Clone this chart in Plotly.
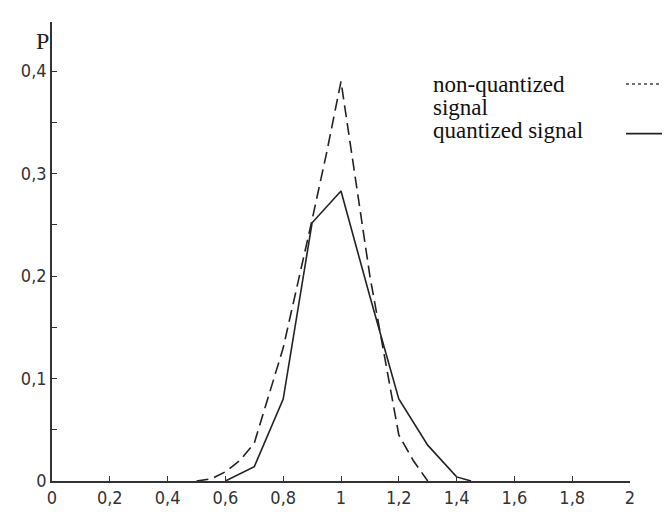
import plotly.graph_objects as go

# Data
nonq_x = [0.5, 0.55, 0.6, 0.65, 0.7, 0.8, 0.9, 0.95, 1.0, 1.1, 1.2, 1.25, 1.3]
nonq_y = [0.0, 0.002, 0.009, 0.02, 0.037, 0.13, 0.255, 0.32, 0.39, 0.2, 0.045, 0.02, 0.0]

quant_x = [0.6, 0.7, 0.8, 0.9, 1.0, 1.1, 1.2, 1.3, 1.4, 1.45]
quant_y = [0.0, 0.014, 0.08, 0.252, 0.283, 0.18, 0.08, 0.035, 0.004, 0.0]

x_ticks = [0, 0.2, 0.4, 0.6, 0.8, 1, 1.2, 1.4, 1.6, 1.8, 2]
x_labels = ["0", "0,2", "0,4", "0,6", "0,8", "1", "1,2", "1,4", "1,6", "1,8", "2"]
y_ticks = [0, 0.1, 0.2, 0.3, 0.4]
y_labels = ["0", "0,1", "0,2", "0,3", "0,4"]

legend_rows = ["non-quantized", "signal", "quantized signal"]
y_title = "P"

W, H = 670, 512
ML, MR, MT, MB = 44, 48, 14, 25
PW, PH = W - ML - MR, H - MT - MB

def px_to_paper_x(px):
    return (px - ML) / PW

def px_to_paper_y(py):
    return (H - MB - py) / PH

line_col = "#222222"
tick_font = dict(family="Liberation Sans Narrow, Arial Narrow, DejaVu Sans Condensed, sans-serif",
                 size=18, color="#333333")
serif = "Liberation Serif, Times New Roman, serif"

fig = go.Figure()
fig.add_trace(go.Scatter(x=nonq_x, y=nonq_y, mode="lines",
                         line=dict(color=line_col, width=1.6, dash="12px,6px"),
                         name="non-quantized signal", showlegend=False))
fig.add_trace(go.Scatter(x=quant_x, y=quant_y, mode="lines",
                         line=dict(color=line_col, width=1.6),
                         name="quantized signal", showlegend=False))

fig.update_layout(
    width=W, height=H,
    margin=dict(l=ML, r=MR, t=MT, b=MB),
    paper_bgcolor="white", plot_bgcolor="white",
    showlegend=False,
    xaxis=dict(range=[0, 2], tickvals=x_ticks, ticktext=x_labels,
               ticks="inside", ticklen=5, tickcolor="#333", tickwidth=1.3,
               showline=True, linecolor="#333", linewidth=1.6,
               showgrid=False, zeroline=False, tickfont=tick_font),
    yaxis=dict(range=[0, 0.448], tickvals=y_ticks, ticktext=y_labels,
               ticks="inside", ticklen=5, tickcolor="#333", tickwidth=1.3,
               minor=dict(dtick=0.05, ticks="inside", ticklen=5, tickcolor="#333", tickwidth=1.3, showgrid=False),
               showline=True, linecolor="#333", linewidth=1.6,
               showgrid=False, zeroline=False, tickfont=tick_font),
)

# Legend drawn manually (text rows + sample lines)
row_y = [78, 102, 126]
for txt, yy in zip(legend_rows, row_y):
    fig.add_annotation(xref="paper", yref="paper", x=px_to_paper_x(423), y=px_to_paper_y(yy),
                       text=txt, showarrow=False, xanchor="left", yanchor="middle", align="left",
                       font=dict(family=serif, size=23, color="#111"))
fig.add_shape(type="line", xref="paper", yref="paper",
              x0=px_to_paper_x(618), x1=px_to_paper_x(670), y0=px_to_paper_y(78), y1=px_to_paper_y(78),
              line=dict(color="#444", width=1.5, dash="dot"))
fig.add_shape(type="line", xref="paper", yref="paper",
              x0=px_to_paper_x(618), x1=px_to_paper_x(663), y0=px_to_paper_y(129), y1=px_to_paper_y(129),
              line=dict(color="#222", width=1.6))
fig.add_annotation(xref="paper", yref="paper", x=px_to_paper_x(34), y=px_to_paper_y(34),
                   text=y_title, showarrow=False, xanchor="center", yanchor="middle",
                   font=dict(family=serif, size=24, color="#222"))

fig.write_html("out.html")
